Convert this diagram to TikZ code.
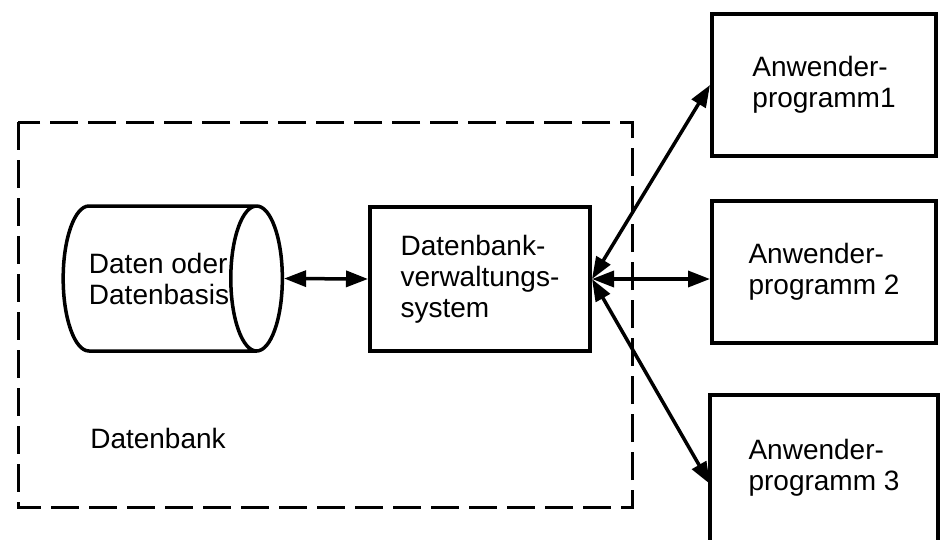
\documentclass[tikz,border=0pt]{standalone}
\usepackage{fontspec}
\setmainfont{Liberation Sans}
\usetikzlibrary{arrows.meta,shapes.geometric}

\begin{document}
\begin{tikzpicture}[x=1pt,y=1pt,yscale=-1,xscale=1,
	font=\fontsize{28}{31}\selectfont,
	prgbox/.style={draw,line width=4pt,rectangle,minimum width=224pt,minimum height=142pt,align=left,inner sep=0pt},
	link/.style={line width=3.5pt,{Triangle[length=22pt,width=16pt]}-{Triangle[length=22pt,width=16pt]}}]
				\useasboundingbox (0,0) rectangle (947,539);

				%Shape: Rectangle [dashed frame]
				\draw [line width=3pt,dash pattern={on 28pt off 10pt}] (18,122) rectangle (632,507);

				%Shape: Can
				\node [draw,line width=3.5pt,cylinder,aspect=1.0,minimum width=145pt,minimum height=214pt,align=left,inner sep=0pt] (daten) at (159,278.5) {Daten oder\\Datenbasis};
				%Shape: Rectangle
				\node [prgbox,minimum width=220pt,minimum height=144pt] (dbvs) at (480,279) {Datenbank-\\verwaltungs-\\system};
				%Shape: Rectangle
				\node [prgbox] (prg1) at (824,85) {Anwender-\\programm1};
				%Shape: Rectangle
				\node [prgbox] (prg2) at (824,272) {Anwender-\\programm 2};
				%Shape: Rectangle [cut at the lower edge]
				\node [prgbox,draw=none] (prg3) at (824,468) {Anwender-\\programm 3};
				\draw [line width=4pt] (prg3.south west) |- (prg3.north east) -- (prg3.south east);

				%Straight Lines
				\draw [link] (daten.east) -- (dbvs.west);
				%Straight Lines
				\draw [link] (dbvs.east) -- (prg1.west);
				%Straight Lines
				\draw [link] (dbvs.east) -- (dbvs.east -| prg2.west);
				%Straight Lines
				\draw [link] (dbvs.east) -- ([yshift=16pt]prg3.west);

				% Text Node
				\node (dbank) at (158,438) {Datenbank};

\end{tikzpicture}
\end{document}
